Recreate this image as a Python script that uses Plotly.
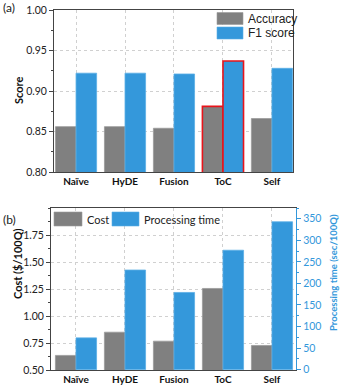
import plotly.graph_objects as go

W, H = 340, 387

categories = ["Naïve", "HyDE", "Fusion", "ToC", "Self"]
accuracy = [0.856, 0.856, 0.854, 0.881, 0.866]
f1_score = [0.922, 0.922, 0.921, 0.937, 0.928]
cost = [0.635, 0.85, 0.767, 1.255, 0.727]
proc_time = [73.6, 231, 179, 277, 343]

GRAY = "#808080"
BLUE = "#3498db"
RED = "#e8141b"
AXC = "#444444"
FONT = "Lato"


def px(x):
    return x / W


def py(y):
    return 1 - y / H


fig = go.Figure()

edge_g = ["#9a9a9a"] * 5
edge_b = ["#5aaee6"] * 5
edge_w = [0.8] * 5
edge_g_a = list(edge_g)
edge_b_a = list(edge_b)
edge_w_a = list(edge_w)
edge_g_a[3] = RED
edge_b_a[3] = RED
edge_w_a[3] = 1.6

fig.add_trace(go.Bar(x=categories, y=accuracy, name="Accuracy", marker=dict(color=GRAY, line=dict(color=edge_g_a, width=edge_w_a)),
                     xaxis="x", yaxis="y", offsetgroup="a1", showlegend=False))
fig.add_trace(go.Bar(x=categories, y=f1_score, name="F1 score", marker=dict(color=BLUE, line=dict(color=edge_b_a, width=edge_w_a)),
                     xaxis="x", yaxis="y", offsetgroup="a2", showlegend=False))
fig.add_trace(go.Bar(x=categories, y=cost, name="Cost", marker=dict(color=GRAY, line=dict(color=edge_g, width=edge_w)),
                     xaxis="x2", yaxis="y2", offsetgroup="b1", showlegend=False))
fig.add_trace(go.Bar(x=categories, y=proc_time, name="Processing time", marker=dict(color=BLUE, line=dict(color=edge_b, width=edge_w)),
                     xaxis="x2", yaxis="y3", offsetgroup="b2", showlegend=False))

grid = dict(showgrid=True, gridcolor="#d0d0d0", griddash="dot", gridwidth=0.8)
tickfont = dict(family=FONT, size=10.5, color="#222")
catfont = dict(family=FONT, size=10, color="#111", weight="bold")

fig.update_layout(
    width=W, height=H, margin=dict(l=0, r=0, t=0, b=0, pad=0, autoexpand=False),
    plot_bgcolor="white", paper_bgcolor="white",
    barmode="group", bargap=0.16, bargroupgap=0,
    xaxis=dict(domain=[px(54), px(293)], anchor="y", range=[-0.45, 4.43], showline=True, linecolor=AXC, linewidth=1,
               mirror=True, ticks="", tickfont=catfont, automargin=False, **grid),
    yaxis=dict(domain=[py(172), py(10)], anchor="x", range=[0.8, 1.0], dtick=0.05, tickformat=".2f",
               showline=True, linecolor=AXC, linewidth=1, mirror=True, ticks="outside", ticklen=4, tickcolor=AXC,
               minor=dict(dtick=0.025, ticks="outside", ticklen=2, tickcolor=AXC, showgrid=False),
               tickfont=tickfont, zeroline=False, automargin=False, **grid),
    xaxis2=dict(domain=[px(51), px(296)], anchor="y2", range=[-0.51, 4.49], showline=True, linecolor=AXC, linewidth=1,
                mirror=True, ticks="", tickfont=catfont, automargin=False, **grid),
    yaxis2=dict(domain=[py(370), py(208)], anchor="x2", range=[0.5, 2.0], tickvals=[0.5, 0.75, 1.0, 1.25, 1.5, 1.75],
                tickformat=".2f", showline=True, linecolor=AXC, linewidth=1, ticks="outside", ticklen=4, tickcolor=AXC,
                minor=dict(dtick=0.125, ticks="outside", ticklen=2, tickcolor=AXC, showgrid=False),
                tickfont=tickfont, zeroline=False, automargin=False, **grid),
    yaxis3=dict(overlaying="y2", side="right", anchor="x2", range=[-1, 375], dtick=50, showline=True, linecolor=BLUE,
                linewidth=1.2, ticks="outside", ticklen=4, tickcolor=BLUE,
                minor=dict(dtick=25, ticks="outside", ticklen=2, tickcolor=BLUE, showgrid=False),
                tickfont=dict(family=FONT, size=10.5, color=BLUE), showgrid=False, zeroline=False, automargin=False),
)

shapes = []
annotations = []

# legend (a)
shapes.append(dict(type="rect", xref="paper", yref="paper", x0=px(217), x1=px(243), y0=py(24.5), y1=py(12.5),
                   fillcolor=GRAY, line=dict(color="#9a9a9a", width=0.6)))
shapes.append(dict(type="rect", xref="paper", yref="paper", x0=px(217), x1=px(243), y0=py(39), y1=py(27),
                   fillcolor=BLUE, line=dict(color="#5aaee6", width=0.6)))
annotations.append(dict(xref="paper", yref="paper", x=px(246), y=py(18.5), text="Accuracy", showarrow=False,
                        xanchor="left", yanchor="middle", font=dict(family="Liberation Sans", size=12, color="#222")))
annotations.append(dict(xref="paper", yref="paper", x=px(246), y=py(33), text="F1 score", showarrow=False,
                        xanchor="left", yanchor="middle", font=dict(family="Liberation Sans", size=12, color="#222")))

# legend (b)
shapes.append(dict(type="rect", xref="paper", yref="paper", x0=px(54), x1=px(82), y0=py(226), y1=py(212),
                   fillcolor=GRAY, line=dict(color="#9a9a9a", width=0.6)))
shapes.append(dict(type="rect", xref="paper", yref="paper", x0=px(112), x1=px(139), y0=py(226), y1=py(212),
                   fillcolor=BLUE, line=dict(color="#5aaee6", width=0.6)))
annotations.append(dict(xref="paper", yref="paper", x=px(85), y=py(219), text="Cost", showarrow=False,
                        xanchor="left", yanchor="middle", font=dict(family=FONT, size=11, color="#222")))
annotations.append(dict(xref="paper", yref="paper", x=px(142), y=py(219), text="Processing time", showarrow=False,
                        xanchor="left", yanchor="middle", font=dict(family=FONT, size=11, color="#222")))

# axis titles
annotations.append(dict(xref="paper", yref="paper", x=px(18), y=py(91), text="Score", textangle=-90, showarrow=False,
                        xanchor="center", yanchor="middle", font=dict(family=FONT, size=11, color="#111", weight="bold")))
annotations.append(dict(xref="paper", yref="paper", x=px(17), y=py(264), text="Cost ($/100Q)", textangle=-90, showarrow=False,
                        xanchor="center", yanchor="middle", font=dict(family=FONT, size=11, color="#111", weight="bold")))
annotations.append(dict(xref="paper", yref="paper", x=px(333), y=py(273), text="Processing time (sec/100Q)", textangle=-90,
                        showarrow=False, xanchor="center", yanchor="middle",
                        font=dict(family=FONT, size=9.5, color=BLUE, weight="bold")))

# panel labels
annotations.append(dict(xref="paper", yref="paper", x=px(1), y=py(8), text="(a)", showarrow=False,
                        xanchor="left", yanchor="middle", font=dict(family=FONT, size=12, color="#222")))
annotations.append(dict(xref="paper", yref="paper", x=px(1), y=py(219), text="(b)", showarrow=False,
                        xanchor="left", yanchor="middle", font=dict(family=FONT, size=12, color="#222")))

fig.update_layout(shapes=shapes, annotations=annotations)

fig.write_html("out.html")
